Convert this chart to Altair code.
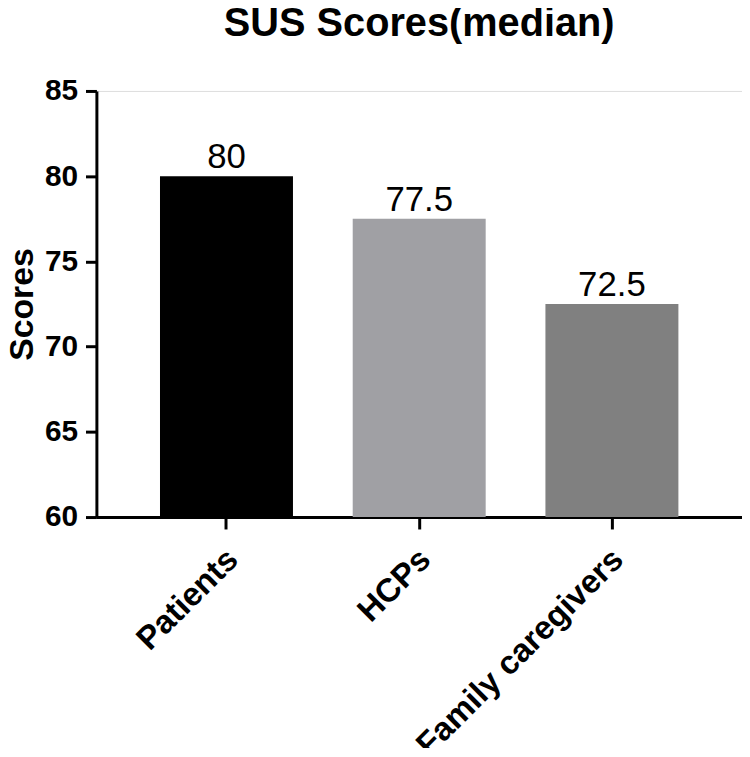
import altair as alt
import pandas as pd

groups = ["Patients", "HCPs", "Family caregivers"]
scores = [80, 77.5, 72.5]
labels = ["80", "77.5", "72.5"]
colors = ["#000000", "#a0a0a4", "#808080"]

df = pd.DataFrame({"group": groups, "score": scores, "label": labels})

FONT = "Liberation Sans"

x = alt.X(
    "group:N",
    sort=groups,
    title=None,
    scale=alt.Scale(paddingInner=0.31, paddingOuter=0.33),
    axis=alt.Axis(labelAngle=-45, labelOverlap=False, labelLimit=0),
)

y = alt.Y(
    "score:Q",
    title="Scores",
    scale=alt.Scale(domain=[60, 85], nice=False, zero=False),
    axis=alt.Axis(values=[60, 65, 70, 75, 80, 85], grid=False),
)

bars = alt.Chart(df).mark_bar(clip=True).encode(
    x=x,
    y=y,
    color=alt.Color("group:N", scale=alt.Scale(domain=groups, range=colors), legend=None),
)

text = alt.Chart(df).mark_text(
    font=FONT, fontSize=35, baseline="alphabetic", dy=-8, color="#000000"
).encode(
    x=x,
    y=y,
    text="label:N",
)

chart = (
    alt.layer(bars, text)
    .properties(
        width=650,
        height=429,
        title=alt.TitleParams(
            "SUS Scores(median)",
            font=FONT,
            fontSize=40,
            fontWeight="bold",
            color="#000000",
            anchor="middle",
            offset=32,
        ),
        autosize=alt.AutoSizeParams(type="none"),
        padding={"left": 89, "top": 81, "right": 0, "bottom": 230},
    )
    .configure_view(stroke=None)
    .configure(background="white")
    .configure_axis(
        grid=False,
        labelFont=FONT,
        labelFontWeight="bold",
        labelColor="#000000",
        domainColor="#000000",
        domainWidth=3,
        tickColor="#000000",
        tickWidth=3,
        titleFont=FONT,
        titleFontWeight="bold",
        titleColor="#000000",
    )
    .configure_axisX(labelFontSize=33, labelPadding=14, labelOffset=-5, tickSize=12)
    .configure_axisY(labelFontSize=30, labelPadding=8, tickSize=11, titleFontSize=34, titlePadding=5)
)

chart.save("out.html", embed_options={"renderer": "svg", "actions": False})
